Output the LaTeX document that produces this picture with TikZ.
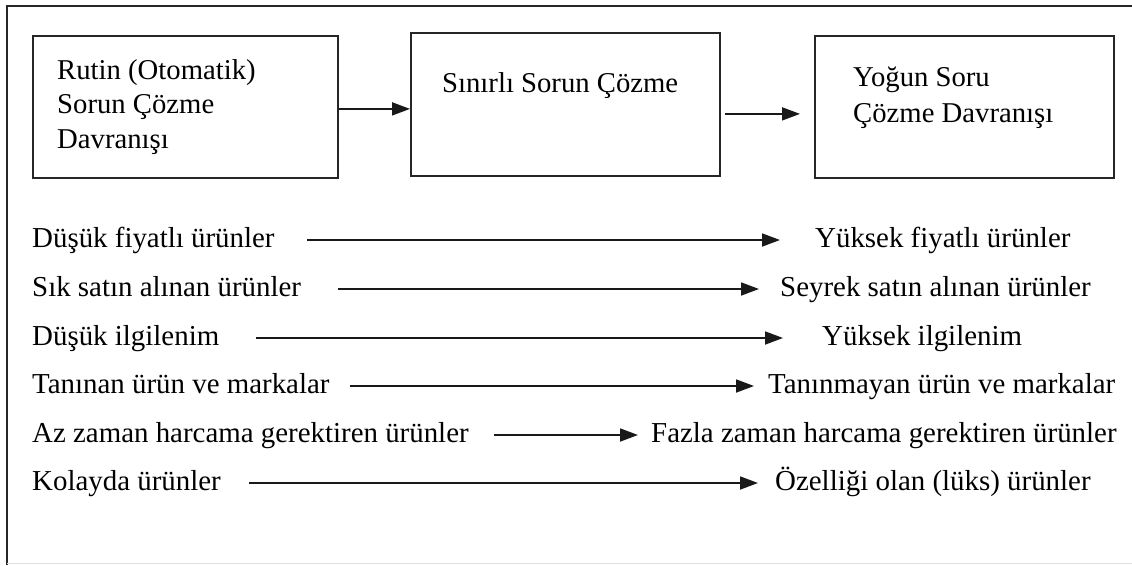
\documentclass[tikz,border=0pt]{standalone}
\usepackage{fontspec}
\setmainfont{Liberation Serif}
\usetikzlibrary{arrows.meta}

\tikzset{
  stagebox/.style={draw=black!85, line width=1.8pt, inner sep=0pt, anchor=north west},
  boxtext/.style={inner sep=0pt, anchor=base west, align=left,
                  font=\fontsize{28.7}{34.5}\selectfont},
  rowtext/.style={inner sep=0pt, anchor=base west, text height=19pt, text depth=5pt,
                  font=\fontsize{28.9}{34}\selectfont},
  arr/.style={line width=1.8pt, draw=black!90, -{Triangle[length=18pt,width=13pt]}},
}

\begin{document}
\begin{tikzpicture}[x=1pt,y=1pt]
  \useasboundingbox (0,0) rectangle (1132,-565);

  % frame around the figure
  \draw[line width=1.8pt, black!85] (7,-565) -- (7,-6) -- (1132,-6);
  \draw[line width=0.8pt, black!12] (7,-563) -- (1132,-563);

  % the three stages
  \node[stagebox, minimum width=305pt, minimum height=142pt] (b1) at (32,-35) {};
  \node[stagebox, minimum width=309pt, minimum height=143pt] (b2) at (410,-32) {};
  \node[stagebox, minimum width=299pt, minimum height=142pt] (b3) at (814,-35) {};

  % a multi-line node sits on the baseline of its last line
  \node[boxtext] (t1) at (57,-148) {Rutin (Otomatik)\\Sorun Çözme\\Davranışı};
  \node[boxtext] (t2) at (442,-92) {Sınırlı Sorun Çözme};
  \node[boxtext, font=\fontsize{28.7}{36}\selectfont] (t3) at (853,-122) {Yoğun Soru\\Çözme Davranışı};

  \draw[arr] ([yshift=-2pt]b1.east) -- ([yshift=-2pt]b1.east -| b2.west);
  \draw[arr] ([xshift=4pt,yshift=-9.5pt]b2.east) -- ([xshift=-14pt,yshift=-7pt]b3.west);

  % product characteristics, low end to high end
  \node[rowtext] (l1) at (32,-247) {Düşük fiyatlı ürünler};
  \node[rowtext] (r1) at (815,-247) {Yüksek fiyatlı ürünler};
  \node[rowtext] (l2) at (32,-296) {Sık satın alınan ürünler};
  \node[rowtext] (r2) at (780,-296) {Seyrek satın alınan ürünler};
  \node[rowtext] (l3) at (32,-345) {Düşük ilgilenim};
  \node[rowtext] (r3) at (822,-345) {Yüksek ilgilenim};
  \node[rowtext] (l4) at (32,-393) {Tanınan ürün ve markalar};
  \node[rowtext] (r4) at (768,-393) {Tanınmayan ürün ve markalar};
  \node[rowtext] (l5) at (32,-442) {Az zaman harcama gerektiren ürünler};
  \node[rowtext] (r5) at (651,-442) {Fazla zaman harcama gerektiren ürünler};
  \node[rowtext] (l6) at (32,-490) {Kolayda ürünler};
  \node[rowtext] (r6) at (775,-490) {Özelliği olan (lüks) ürünler};

  \draw[arr, shorten <=32pt, shorten >=35pt] (l1.east) -- (r1.west);
  \draw[arr, shorten <=37pt, shorten >=21pt] (l2.east) -- (r2.west);
  \draw[arr, shorten <=37pt, shorten >=39pt] (l3.east) -- (r3.west);
  \draw[arr, shorten <=20pt, shorten >=14pt] (l4.east) -- (r4.west);
  \draw[arr, shorten <=25pt, shorten >=13pt] (l5.east) -- (r5.west);
  \draw[arr, shorten <=28pt, shorten >=17pt] (l6.east) -- (r6.west);
\end{tikzpicture}
\end{document}
